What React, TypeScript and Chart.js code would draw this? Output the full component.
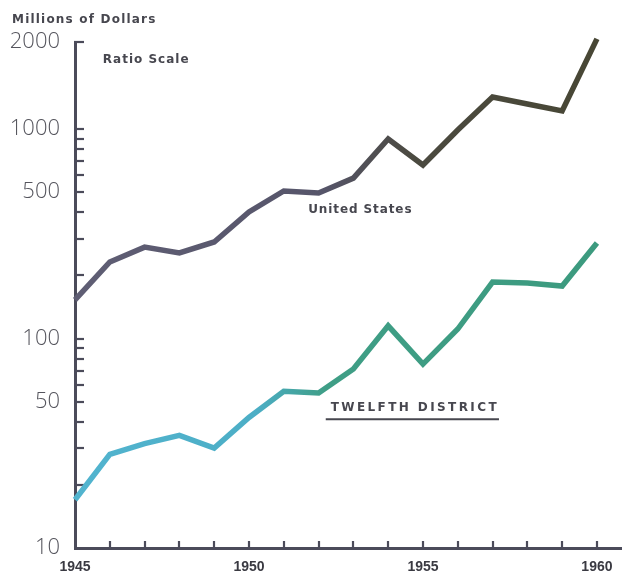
import React, { useEffect, useRef } from 'react';
import { Chart, registerables, LogarithmicScale } from 'chart.js';

// Annual totals, millions of dollars
const years = [1945, 1946, 1947, 1948, 1949, 1950, 1951, 1952, 1953, 1954, 1955, 1956, 1957, 1958, 1959, 1960];
const unitedStates = [153, 232, 273, 256, 289, 402, 506, 495, 583, 896, 673, 989, 1290, 1220, 1155, 2050];
const twelfthDistrict = [17, 28, 31.5, 34.5, 30, 42, 56, 55, 71.5, 115, 75.5, 111, 186, 184, 178, 286];

const yMajorTicks = [10, 50, 100, 500, 1000, 2000];
const yMinorTicks = [20, 30, 40, 60, 70, 80, 90, 200, 300, 400, 600, 700, 800, 900];
const xLabelYears = [1945, 1950, 1955, 1960];

const AXIS = '#4b4b5a';
const TEXT = '#47474f';
const LABEL_FONT = '"DejaVu Sans", "Liberation Sans", sans-serif';

// The band above 1000 is printed wider than a pure log step.
const UPPER_STRETCH = 1.38;
const ratioT = (v: number) => {
  const l = Math.log10(v);
  return l <= 3 ? l : 3 + (l - 3) * UPPER_STRETCH;
};
const ratioTInv = (t: number) => (t <= 3 ? Math.pow(10, t) : Math.pow(10, 3 + (t - 3) / UPPER_STRETCH));

class RatioScale extends LogarithmicScale {
  static id = 'ratio';
  static defaults = LogarithmicScale.defaults;
  getPixelForValue(value: any) {
    if (value === null || value === undefined || isNaN(value) || value <= 0) return NaN;
    const t0 = ratioT(this.min);
    const t1 = ratioT(this.max);
    return this.getPixelForDecimal((ratioT(value) - t0) / (t1 - t0));
  }
  getValueForPixel(pixel: number) {
    const d = this.getDecimalForPixel(pixel);
    const t0 = ratioT(this.min);
    const t1 = ratioT(this.max);
    return ratioTInv(t0 + d * (t1 - t0));
  }
}

Chart.register(...registerables, RatioScale as any);

// Short inward tick marks on both axes
const tickMarks = {
  id: 'tickMarks',
  beforeDatasetsDraw(chart: any) {
    const { ctx, chartArea, scales } = chart;
    const { x, y } = scales;
    ctx.save();
    ctx.strokeStyle = AXIS;
    ctx.lineWidth = 2.2;
    y.ticks.forEach((t: any) => {
      if (t.value <= y.min) return;
      const py = Math.round(y.getPixelForValue(t.value));
      ctx.beginPath();
      ctx.moveTo(chartArea.left - 1, py);
      ctx.lineTo(chartArea.left + 9, py);
      ctx.stroke();
    });
    x.ticks.forEach((t: any) => {
      if (t.value <= x.min) return;
      const px = Math.round(x.getPixelForValue(t.value));
      ctx.beginPath();
      ctx.moveTo(px, chartArea.bottom + 1);
      ctx.lineTo(px, chartArea.bottom - 7);
      ctx.stroke();
    });
    ctx.restore();
  },
};

// Series names and axis notes
const notes = {
  id: 'notes',
  afterDatasetsDraw(chart: any) {
    const { ctx, chartArea, scales } = chart;
    const { x, y } = scales;
    ctx.save();
    ctx.fillStyle = TEXT;
    ctx.textBaseline = 'middle';
    ctx.textAlign = 'left';

    ctx.font = `bold 12px ${LABEL_FONT}`;
    (ctx as any).letterSpacing = '1.2px';
    ctx.fillText('Millions of Dollars', chartArea.left - 63, chartArea.top - 22);

    (ctx as any).letterSpacing = '1px';
    ctx.fillText('Ratio Scale', x.getPixelForValue(1945.8), y.getPixelForValue(1730));

    ctx.textAlign = 'center';
    (ctx as any).letterSpacing = '0.9px';
    ctx.fillText('United States', x.getPixelForValue(1953.2), y.getPixelForValue(410));

    ctx.textAlign = 'left';
    (ctx as any).letterSpacing = '2.4px';
    const tx = x.getPixelForValue(1952.35);
    const ty = y.getPixelForValue(46.5);
    ctx.fillText('TWELFTH DISTRICT', tx, ty);
    const w = ctx.measureText('TWELFTH DISTRICT').width;
    ctx.strokeStyle = TEXT;
    ctx.lineWidth = 2;
    ctx.beginPath();
    ctx.moveTo(tx - 5, ty + 11);
    ctx.lineTo(tx + w, ty + 11);
    ctx.stroke();
    ctx.restore();
  },
};

const horizontalGradient = (stops: [number, string][]) => (c: any) => {
  const chart = c.chart;
  const area = chart.chartArea;
  if (!area) return stops[0][1];
  const g = chart.ctx.createLinearGradient(area.left, 0, area.right, 0);
  stops.forEach(([o, col]) => g.addColorStop(o, col));
  return g;
};

export default function App() {
  const canvasRef = useRef<HTMLCanvasElement | null>(null);

  useEffect(() => {
    if (!canvasRef.current) return;
    const chart = new Chart(canvasRef.current, {
      type: 'line',
      data: {
        datasets: [
          {
            label: 'United States',
            data: years.map((yr, i) => ({ x: yr, y: unitedStates[i] })),
            borderColor: horizontalGradient([
              [0, '#5f5e74'],
              [0.45, '#56556a'],
              [0.62, '#4b4a40'],
              [1, '#474633'],
            ]),
            borderWidth: 5.5,
            borderJoinStyle: 'miter',
            pointRadius: 0,
            tension: 0,
            clip: false,
          } as any,
          {
            label: 'Twelfth District',
            data: years.map((yr, i) => ({ x: yr, y: twelfthDistrict[i] })),
            borderColor: horizontalGradient([
              [0, '#52b4cf'],
              [0.33, '#4caec6'],
              [0.46, '#3f9e86'],
              [1, '#3c9a7e'],
            ]),
            borderWidth: 5.5,
            borderJoinStyle: 'miter',
            pointRadius: 0,
            tension: 0,
            clip: false,
          } as any,
        ],
      },
      options: {
        animation: false,
        responsive: false,
        layout: { padding: { top: 42, left: 0, right: 0, bottom: 0 } },
        plugins: {
          legend: { display: false },
          tooltip: { enabled: false },
        },
        scales: {
          x: {
            type: 'linear',
            min: 1945,
            max: 1960.72,
            afterBuildTicks: (s: any) => {
              s.ticks = years.map((v) => ({ value: v }));
            },
            afterFit: (s: any) => {
              s.height = 24;
            },
            ticks: {
              autoSkip: false,
              maxRotation: 0,
              padding: 3,
              color: '#3a3a42',
              font: { family: '"Liberation Sans", sans-serif', size: 14, weight: 'bold' },
              callback: (v: any) => (xLabelYears.includes(Number(v)) ? String(v) : ''),
            },
            grid: { display: false },
            border: { display: true, color: AXIS, width: 3 },
          },
          y: {
            type: 'ratio' as any,
            min: 10,
            max: 2000,
            afterBuildTicks: (s: any) => {
              s.ticks = [...yMajorTicks, ...yMinorTicks].sort((a, b) => a - b).map((v) => ({ value: v }));
            },
            afterFit: (s: any) => {
              s.width = 75;
            },
            ticks: {
              autoSkip: false,
              padding: 7,
              color: '#55555d',
              font: { family: '"Open Sans", Lato, sans-serif', size: 22, weight: '300' },
              callback: (v: any) => (yMajorTicks.includes(Number(v)) ? String(v) : ''),
            },
            grid: { display: false },
            border: { display: true, color: AXIS, width: 3 },
          } as any,
        },
      },
      plugins: [tickMarks, notes],
    });
    return () => chart.destroy();
  }, []);

  return (
    <div style={{ position: 'absolute', left: 0, top: 0, width: 622, height: 572, background: '#ffffff' }}>
      <canvas ref={canvasRef} width={622} height={572} style={{ display: 'block' }} />
    </div>
  );
}
